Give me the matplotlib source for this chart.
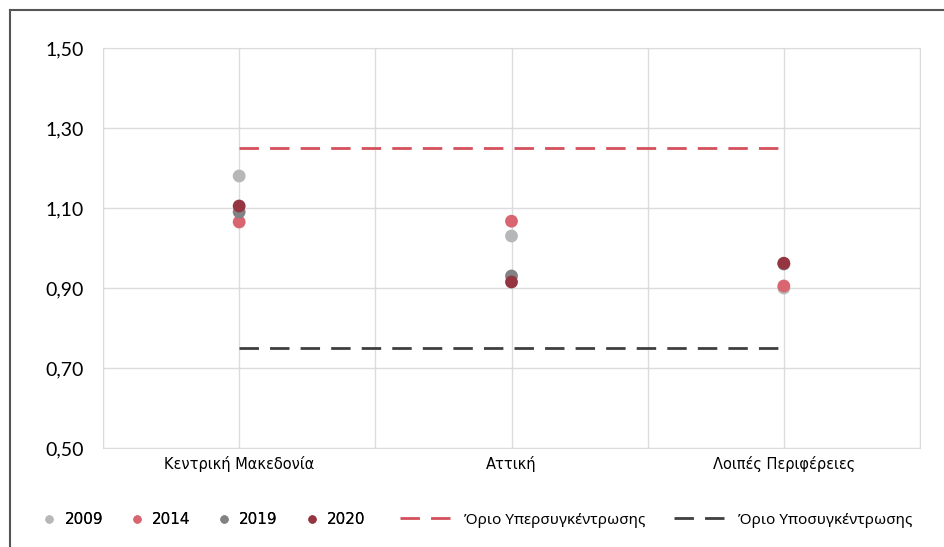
import matplotlib
matplotlib.use('Agg')
import matplotlib.pyplot as plt
from matplotlib.lines import Line2D
from matplotlib.ticker import FuncFormatter

plt.rcParams['font.family'] = ['Lato', 'DejaVu Sans']

regions = ['Κεντρική Μακεδονία', 'Αττική', 'Λοιπές Περιφέρειες']
years = ['2009', '2014', '2019', '2020']
values = {
    '2009': [1.18, 1.03, 0.90],
    '2014': [1.065, 1.067, 0.905],
    '2019': [1.09, 0.93, 0.96],
    '2020': [1.105, 0.915, 0.962],
}
colors = {'2009': '#b5b7b9', '2014': '#d8656f', '2019': '#808285', '2020': '#943541'}
upper_limit = 1.25
lower_limit = 0.75
upper_label = 'Όριο Υπερσυγκέντρωσης'
lower_label = 'Όριο Υποσυγκέντρωσης'

fig = plt.figure(figsize=(9.44, 5.47), dpi=100)
ax = fig.add_axes([103 / 944, 1 - 448 / 547, 817 / 944, 400 / 547])

xs = [i + 0.5 for i in range(len(regions))]
for y in years:
    ax.scatter(xs, values[y], s=85, color=colors[y], zorder=3, edgecolors='none')

up, = ax.plot([xs[0], xs[-1]], [upper_limit] * 2, color='#d4505c', lw=2,
              dashes=(7, 4), zorder=2)
lo, = ax.plot([xs[0], xs[-1]], [lower_limit] * 2, color='#3f3f3f', lw=2,
              dashes=(7, 4), zorder=2)

ax.set_xlim(0, len(regions))
ax.set_ylim(0.5, 1.5)
ax.set_xticks(xs)
ax.set_xticklabels(regions, fontsize=10.5, family='DejaVu Sans')
ax.set_xticks(range(len(regions) + 1), minor=True)
ax.set_yticks([0.5, 0.7, 0.9, 1.1, 1.3, 1.5])
ax.yaxis.set_major_formatter(FuncFormatter(lambda v, p: f'{v:.2f}'.replace('.', ',')))
ax.tick_params(axis='y', labelsize=14, length=0, pad=14)
ax.tick_params(axis='x', which='both', length=0, pad=6)
ax.grid(True, which='both', color='#dcdcdc', lw=1)
ax.set_axisbelow(True)
for s in ax.spines.values():
    s.set_color('#dcdcdc')

# outer frame (left and top only)
fig.add_artist(Line2D([10 / 944, 10 / 944], [0, 1 - 10 / 547], color='#555555', lw=1.5))
fig.add_artist(Line2D([10 / 944, 1], [1 - 10 / 547, 1 - 10 / 547], color='#555555', lw=1.5))

# legends: year dots and limit lines
year_handles = [Line2D([], [], ls='none', marker='o', ms=6, mec='none', color=colors[y])
                for y in years]
leg1 = fig.legend(year_handles, years, loc='center left',
                  bbox_to_anchor=(43 / 944, 1 - 520 / 547), ncol=4, frameon=False,
                  prop={'family': 'DejaVu Sans', 'size': 11},
                  handlelength=0.8, handletextpad=0.6,
                  columnspacing=1.8, borderpad=0, borderaxespad=0)
fig.add_artist(leg1)
fig.legend([up, lo], [upper_label, lower_label], loc='center left',
           bbox_to_anchor=(400 / 944, 1 - 520 / 547), ncol=2, frameon=False,
           prop={'family': 'Noto Sans', 'size': 11}, handlelength=3.6,
           handletextpad=0.56, columnspacing=1.9, borderpad=0, borderaxespad=0)

fig.savefig('out.png', dpi=100)
